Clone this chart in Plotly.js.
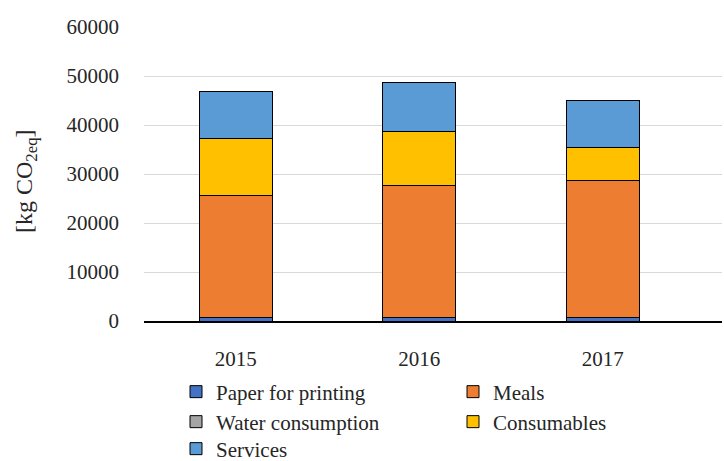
<!DOCTYPE html>
<html><head><meta charset="utf-8">
<script src="https://cdn.plot.ly/plotly-3.0.1.min.js"></script>
<style>html,body{margin:0;padding:0;background:#fff}#chart{width:724px;height:461px}</style>
</head><body><div id="chart"></div>
<script>
var years = ['2015', '2016', '2017'];
var paper = [680, 680, 680];
var water = [50, 50, 50];
var meals = [24850, 26890, 27910];
var consumables = [11630, 11020, 6870];
var services = [9660, 10070, 9520];
var yTitle = '[kg CO<sub>2eq</sub>]';

var names = ['Paper for printing', 'Water consumption', 'Meals', 'Consumables', 'Services'];
var series = [paper, water, meals, consumables, services];
var colors = ['#4472C4', '#A5A5A5', '#ED7D31', '#FFC000', '#5B9BD5'];
var legendOf = ['legend', 'legend2', 'legend', 'legend2', 'legend3'];

var FONT = 'Liberation Serif, Times New Roman, serif';
var traces = series.map(function (s, i) {
  return {
    type: 'bar', name: names[i], x: years, y: s, legend: legendOf[i],
    marker: { color: colors[i], line: { color: '#000', width: 1 } },
    hoverinfo: 'skip'
  };
});

function leg(yPix) {
  return {
    orientation: 'h', xref: 'container', yref: 'container',
    x: 176 / 724, xanchor: 'left', y: 1 - yPix / 461, yanchor: 'middle',
    entrywidth: 232, entrywidthmode: 'pixels', traceorder: 'normal',
    font: { family: FONT, size: 21, color: '#262626' }, itemwidth: 30,
    bgcolor: 'rgba(0,0,0,0)'
  };
}

var layout = {
  width: 724, height: 461,
  margin: { l: 144, r: 2, t: 27, b: 140 },
  barmode: 'stack', bargap: 0.6,
  paper_bgcolor: '#fff', plot_bgcolor: '#fff',
  font: { family: FONT, size: 21, color: '#262626' },
  showlegend: true,
  legend: leg(392),
  legend2: leg(422),
  legend3: leg(449),
  xaxis: {
    type: 'category', range: [-0.5, 2.65], showgrid: false,
    showline: true, linecolor: '#000', linewidth: 1.5,
    ticks: '', ticklabelstandoff: 18, tickfont: { family: FONT, size: 21 }
  },
  yaxis: {
    range: [0, 60000], dtick: 10000, showgrid: true, gridcolor: '#d9d9d9', gridwidth: 1,
    zeroline: false, showline: false, ticks: '', tickformat: 'd',
    ticklabelstandoff: 24, tickfont: { family: FONT, size: 21 }
  },
  annotations: [{
    text: yTitle, textangle: -90, showarrow: false,
    xref: 'paper', yref: 'paper', x: (26 - 144) / 578, y: (321 - 181) / 294,
    xanchor: 'center', yanchor: 'middle',
    font: { family: FONT, size: 24, color: '#262626' }
  }]
};
Plotly.newPlot('chart', traces, layout, { displayModeBar: false, staticPlot: true });
</script></body></html>
